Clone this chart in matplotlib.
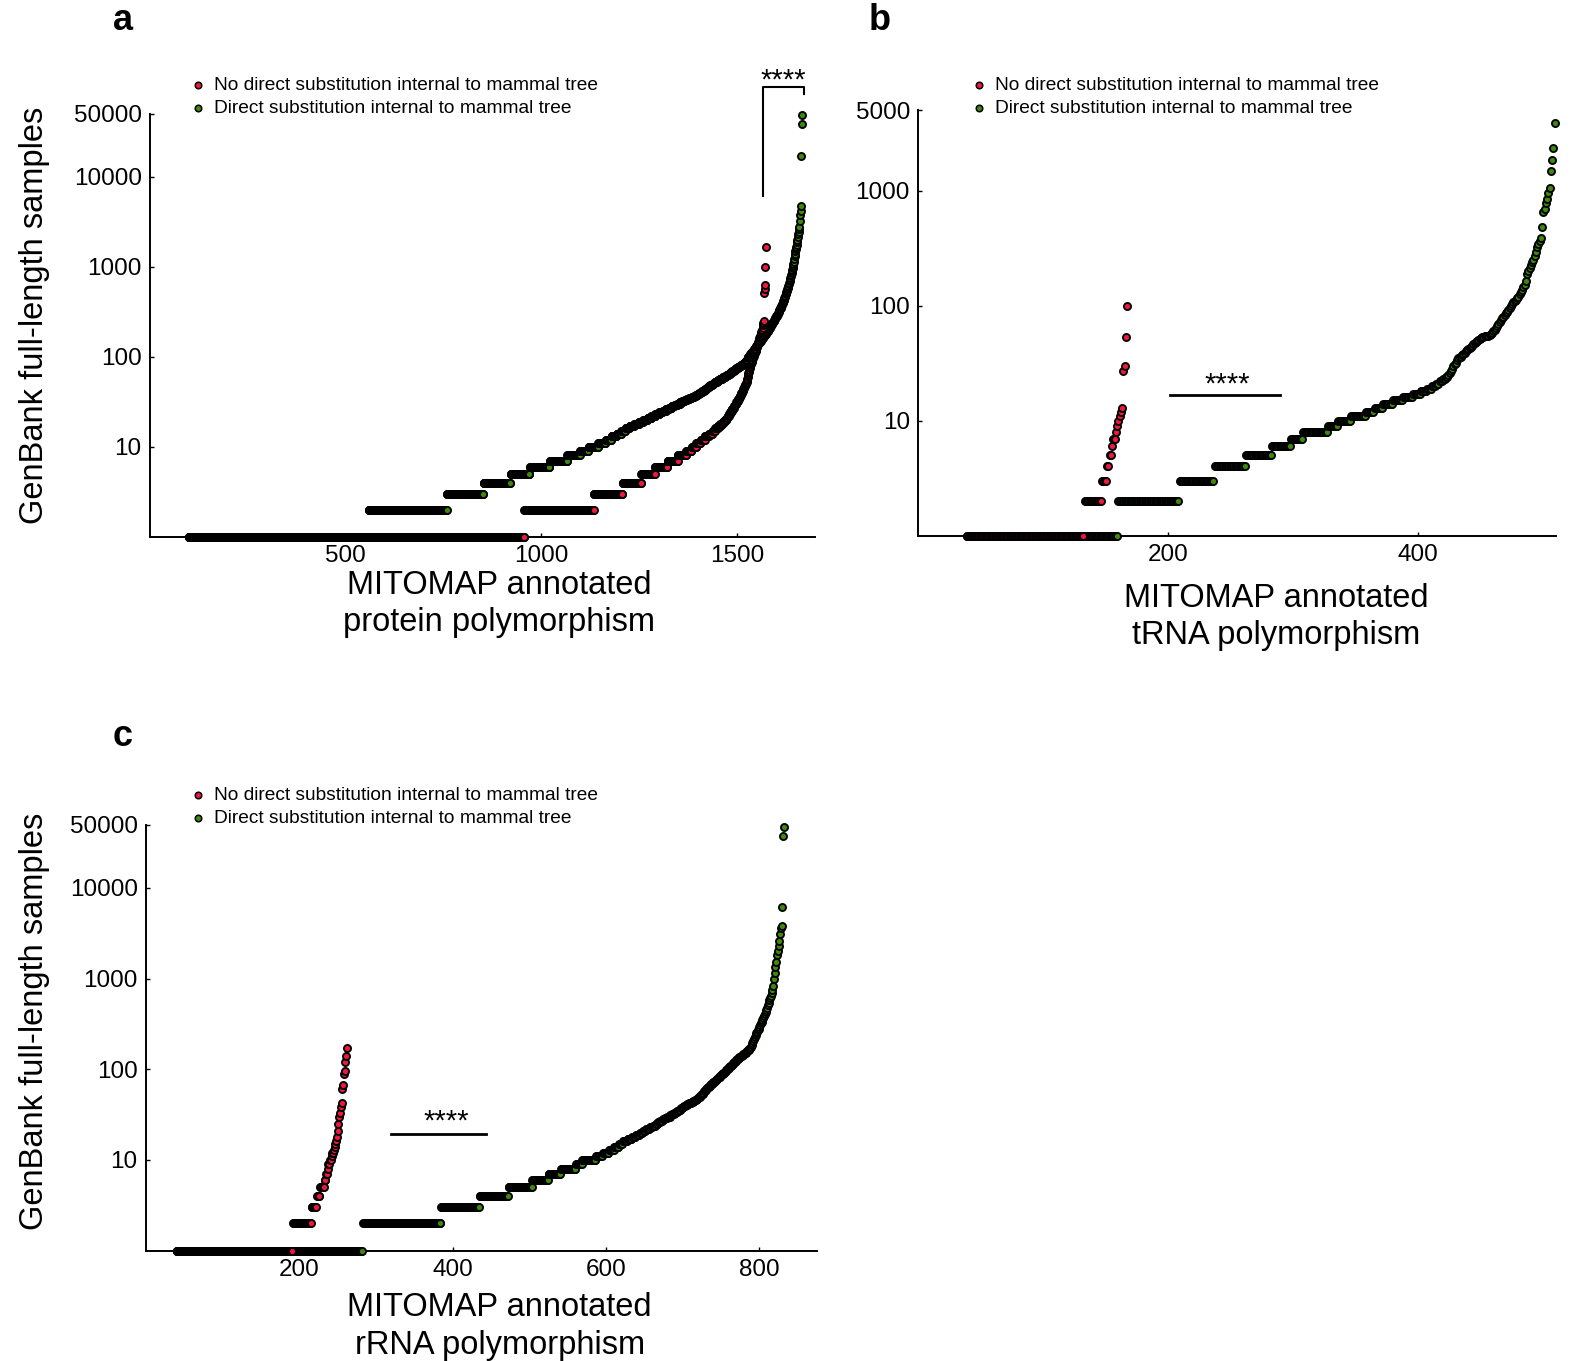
import numpy as np
import matplotlib
matplotlib.use("Agg")
import matplotlib.pyplot as plt

plt.rcParams['font.family'] = ['Liberation Sans', 'DejaVu Sans']

RED = '#f5163f'
GREEN = '#3d8a0a'
LABEL_NO = 'No direct substitution internal to mammal tree'
LABEL_YES = 'Direct substitution internal to mammal tree'

# ---------------------------------------------------------------------------
# Ranked GenBank sample counts per polymorphism.
# Each group: first rank on the x axis, how many polymorphisms were seen in
# exactly 1, 2, 3, ... samples, then the remaining sorted sample counts.
# ---------------------------------------------------------------------------

# a: protein polymorphisms
a_first = 99
a_no_counts = [858, 178, 73, 48, 35, 32, 27, 21, 14, 12, 11, 11, 10, 9, 7, 7, 6, 6,
               5, 5, 3, 3, 3, 3, 2, 3, 2, 2, 2, 2, 2, 2, 1, 2, 1, 1, 2, 1, 1, 2,
               1, 1, 1, 1, 1, 1, 1, 1, 1, 1, 1]
a_no_tail = [52, 55, 57, 59, 63, 66, 68, 71, 74, 77, 80, 84, 86, 88, 90, 93, 96, 99,
             102, 104, 106, 110, 113, 116, 119, 122, 128, 132, 136, 140, 145, 149,
             155, 160, 165, 170, 176, 182, 188, 193, 200, 210, 223, 235, 249,
             505, 560, 625, 995, 1670]
a_yes_counts = [460, 200, 94, 69, 49, 51, 45, 32, 22, 25, 19, 15, 13, 12, 11, 10,
                12, 12, 11, 11, 10, 10, 10, 9, 8, 8, 7, 7, 7, 7, 6, 6, 6, 6, 6, 6, 5,
                4, 4, 4, 4, 4, 4, 3, 3, 3, 3, 3, 3, 3, 3, 3, 3, 3, 3, 3, 3, 3, 3, 3,
                3, 3, 2, 2, 2, 2, 2, 2, 2, 2, 2, 2, 2, 2, 2, 2, 2, 2, 2, 2, 2, 2, 1,
                1, 1, 1, 1, 1, 1, 1, 1, 1, 1]
a_yes_tail = [97, 98, 100, 101, 102, 104, 105, 106, 108, 109, 111, 112, 114, 115, 117,
              118, 120, 122, 123, 125, 127, 128, 130, 132, 134, 135, 137, 139, 141,
              143, 145, 147, 149, 151, 153, 155, 157, 159, 162, 164, 166, 168, 171,
              173, 175, 178, 180, 183, 185, 188, 190, 193, 195,
              199, 203, 206, 210, 214, 218, 222, 226, 229, 233, 237, 241, 245, 248, 252,
              256, 261, 266, 271, 276, 281, 286, 290, 294,
              301, 308, 315, 322, 329, 337, 344, 352, 360, 368, 377, 385, 394, 403,
              412, 422, 432,
              446, 461, 476, 492, 508, 525, 542, 560, 579, 598, 618, 639, 660,
              689, 719, 750, 783, 817, 853, 890, 929, 969, 1010,
              1070, 1140, 1220, 1310, 1400,
              1480, 1560, 1650, 1760, 1870, 1980,
              2130, 2280, 2440, 2600, 2770,
              3250, 3720, 4200, 4690,
              17000, 38500, 49000]

# b: tRNA polymorphisms
b_first = 39
b_no_counts = [94, 14, 4, 2, 2, 1, 2, 1, 1, 1, 1, 1, 1]
b_no_tail = [27, 30, 53, 100]
b_yes_counts = [121, 49, 28, 25, 21, 15, 10, 20, 8, 10, 12, 7, 7, 8, 8, 8, 6, 5, 4, 3,
                3, 3, 2, 2]
b_yes_tail = [25, 26, 27, 28, 30, 31, 32, 34, 35, 36, 36, 37, 38, 39, 40, 41, 42, 43,
              44, 45, 46, 47, 48, 49, 50, 51, 52, 53, 53, 54, 54, 54, 55, 56, 57, 58,
              60, 61, 64, 67, 70, 72, 75, 78, 80, 83, 86, 89, 92, 95, 99, 103, 107,
              110, 113, 117, 120, 126, 132, 138, 144, 151, 165, 190, 200, 212, 225,
              238, 250, 270, 295, 327, 345, 365, 385, 488, 657, 690, 778, 850, 950,
              1062, 1490, 1850, 2340, 3860]

# c: rRNA polymorphisms
c_first = 40
c_no_counts = [152, 24, 7, 4, 6, 2, 2, 1, 2, 2, 1, 2, 1, 1, 1, 1]
c_no_tail = [18, 21, 25, 30, 33, 38, 42, 60, 67, 89, 96, 120, 140, 173]
c_yes_counts = [243, 102, 50, 38, 31, 21, 16, 20, 8, 18, 9, 8, 7, 6, 5, 6, 6, 5, 5, 4,
                4, 5, 4, 4, 3, 3, 3, 3, 3, 4, 2, 3, 2, 2, 2, 3,
                2, 2, 2, 2, 2, 2, 2, 2, 2, 2, 2, 1, 1, 1]
c_yes_tail = [51, 52, 53, 54, 55, 57, 58, 59, 60, 62, 63, 64, 65, 67, 68, 69, 71, 72,
              73, 75, 76, 77, 79, 80, 82, 83, 85, 86, 88, 89, 90,
              92, 94, 96, 98, 100, 102, 104, 106, 108, 110, 112, 114, 116, 119, 121,
              124, 127,
              129, 131, 133, 135, 137, 139, 141, 144, 146, 148, 151, 153, 156, 159,
              162, 165, 168, 170,
              178, 187, 196, 205, 215, 226, 237, 249,
              258, 268, 280, 295, 305, 320, 335, 350, 370, 390, 410, 431, 455, 480,
              512, 545, 575, 606, 650, 700, 748, 830, 982,
              1150, 1332, 1535, 1820, 2040, 2285, 2617, 3100, 3600, 3760, 6210,
              37300, 46600]

a_yticks = [10, 100, 1000, 10000, 50000]
b_yticks = [10, 100, 1000, 5000]
c_yticks = [10, 100, 1000, 10000, 50000]
a_xticks = [500, 1000, 1500]
b_xticks = [200, 400]
c_xticks = [200, 400, 600, 800]


def ranked(first, counts, tail):
    levels = np.arange(1, len(counts) + 1)
    vals = np.concatenate([np.repeat(levels, counts), np.asarray(tail, float)])
    return first + np.arange(len(vals)), vals


W, H = 1574, 1361
fig = plt.figure(figsize=(W / 100, H / 100), dpi=100)

MS = 26
LW = 1.35
LABEL_FS = 23.5
TICK_FS = 17.5


def panel(rect, first, no_counts, no_tail, yes_counts, yes_tail, xlim, ylim,
          xticks, yticks, xlabel, ylabel):
    ax = fig.add_axes(rect)
    xg, yg = ranked(first, yes_counts, yes_tail)
    xr, yr = ranked(first, no_counts, no_tail)
    ax.scatter(xg, yg, s=MS, c=GREEN, edgecolors='black', linewidths=LW,
               zorder=3, clip_on=False)
    ax.scatter(xr, yr, s=MS, c=RED, edgecolors='black', linewidths=LW,
               zorder=4, clip_on=False)
    ax.set_yscale('log')
    ax.set_xlim(*xlim)
    ax.set_ylim(*ylim)
    ax.set_xticks(xticks)
    ax.set_xticklabels([str(t) for t in xticks])
    ax.set_yticks(yticks)
    ax.set_yticklabels([str(t) for t in yticks])
    ax.yaxis.set_minor_locator(matplotlib.ticker.NullLocator())
    for s in ('top', 'right'):
        ax.spines[s].set_visible(False)
    for s in ('left', 'bottom'):
        ax.spines[s].set_linewidth(1.4)
    ax.tick_params(direction='in', length=3, width=1, labelsize=TICK_FS, pad=6)
    ax.set_xlabel(xlabel, fontsize=LABEL_FS, linespacing=1.27)
    if ylabel:
        ax.set_ylabel(ylabel, fontsize=LABEL_FS)
    return ax


axa = panel([150 / W, 1 - 536.7 / H, 665 / W, 422.9 / H], a_first,
            a_no_counts, a_no_tail, a_yes_counts, a_yes_tail, (0, 1700),
            (1, 50000), a_xticks, a_yticks,
            'MITOMAP annotated\nprotein polymorphism', 'GenBank full-length samples')
axb = panel([918.3 / W, 1 - 535.7 / H, 637.5 / W, 425.4 / H], b_first,
            b_no_counts, b_no_tail, b_yes_counts, b_yes_tail, (0, 510),
            (1, 5000), b_xticks, b_yticks,
            'MITOMAP annotated\ntRNA polymorphism', None)
axc = panel([146 / W, 1 - 1250.7 / H, 670.9 / W, 426.2 / H], c_first,
            c_no_counts, c_no_tail, c_yes_counts, c_yes_tail, (0, 875),
            (1, 50000), c_xticks, c_yticks,
            'MITOMAP annotated\nrRNA polymorphism', 'GenBank full-length samples')

axa.xaxis.set_label_coords(0.525, -0.078)
axb.xaxis.set_label_coords(0.561, -0.111)
axc.xaxis.set_label_coords(0.527, -0.098)
axa.yaxis.set_label_coords(-0.150, 0.524)
axc.yaxis.set_label_coords(-0.143, 0.537)

# significance markers
axa.plot([1566, 1566, 1673, 1673], [6100, 98500, 98500, 82000], color='black',
         lw=1.5, clip_on=False)
axa.text(1620, 116000, '****', ha='center', va='center', fontsize=21)
axb.plot([201, 289], [16.7, 16.7], color='black', lw=2)
axb.text(247, 20.8, '****', ha='center', va='center', fontsize=21)
axc.plot([320, 444], [19.4, 19.4], color='black', lw=2)
axc.text(392, 26.5, '****', ha='center', va='center', fontsize=21)

# legends
for ax, (lx, ly) in ((axa, (192, 77)), (axb, (973, 77)), (axc, (192, 787))):
    hr = ax.scatter([], [], s=22, c=RED, edgecolors='black', linewidths=1.1)
    hg = ax.scatter([], [], s=22, c=GREEN, edgecolors='black', linewidths=1.1)
    ax.legend([hr, hg], [LABEL_NO, LABEL_YES], loc='upper left',
              bbox_to_anchor=(lx / W, 1 - ly / H), bbox_transform=fig.transFigure,
              frameon=False, fontsize=13.8, handlelength=0.6, handletextpad=0.55,
              labelspacing=0.25, borderpad=0, borderaxespad=0)

# panel letters
for letter, (px, py) in (('a', (123, 21)), ('b', (880, 21)), ('c', (123, 737))):
    fig.text(px / W, 1 - py / H, letter, fontsize=26, fontweight='bold',
             ha='center', va='center')

fig.savefig('out.png', dpi=100)
